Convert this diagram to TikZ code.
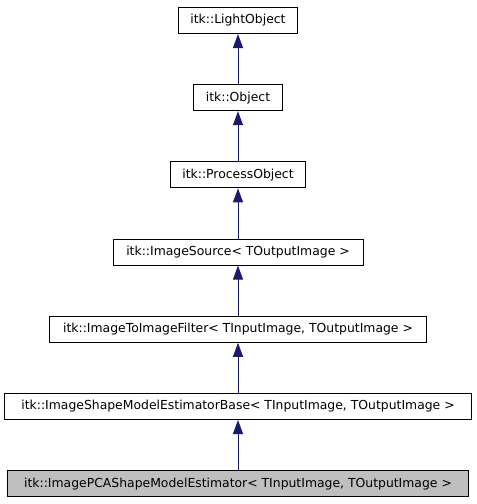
\documentclass[tikz,border=0pt]{standalone}
\usepackage{fontspec}
\setmainfont{DejaVu Sans}
\usetikzlibrary{arrows.meta}
\definecolor{edgeblue}{HTML}{191970}
\definecolor{nodegray}{HTML}{BFBFBF}
\tikzset{
  cls/.style={draw=black, line width=1pt, minimum height=26pt, inner sep=0pt, anchor=north,
    font=\fontsize{12.4}{14}\selectfont},
  inh/.style={draw=edgeblue, line width=1pt, -{Triangle[length=14pt,width=10pt]}, fill=edgeblue}
}
\begin{document}
\begin{tikzpicture}[x=1pt,y=-1pt]
\useasboundingbox (0,0) rectangle (477,504);
\node[cls, minimum width=119pt] (lo) at (238,7) {itk::LightObject};
\node[cls, minimum width=89pt] (ob) at (238,84.2) {itk::Object};
\node[cls, minimum width=135pt] (po) at (238,161.4) {itk::ProcessObject};
\node[cls, minimum width=250pt] (is) at (238,238.6) {itk::ImageSource< TOutputImage >};
\node[cls, minimum width=377pt] (iif) at (238,315.8) {itk::ImageToImageFilter< TInputImage, TOutputImage >};
\node[cls, minimum width=467pt] (base) at (238,393) {itk::ImageShapeModelEstimatorBase< TInputImage, TOutputImage >};
\node[cls, minimum width=461pt, fill=nodegray] (pca) at (238,470.2) {itk::ImagePCAShapeModelEstimator< TInputImage, TOutputImage >};
\draw[inh] (ob.north) -- (lo.south);
\draw[inh] (po.north) -- (ob.south);
\draw[inh] (is.north) -- (po.south);
\draw[inh] (iif.north) -- (is.south);
\draw[inh] (base.north) -- (iif.south);
\draw[inh] (pca.north) -- (base.south);
\end{tikzpicture}
\end{document}
